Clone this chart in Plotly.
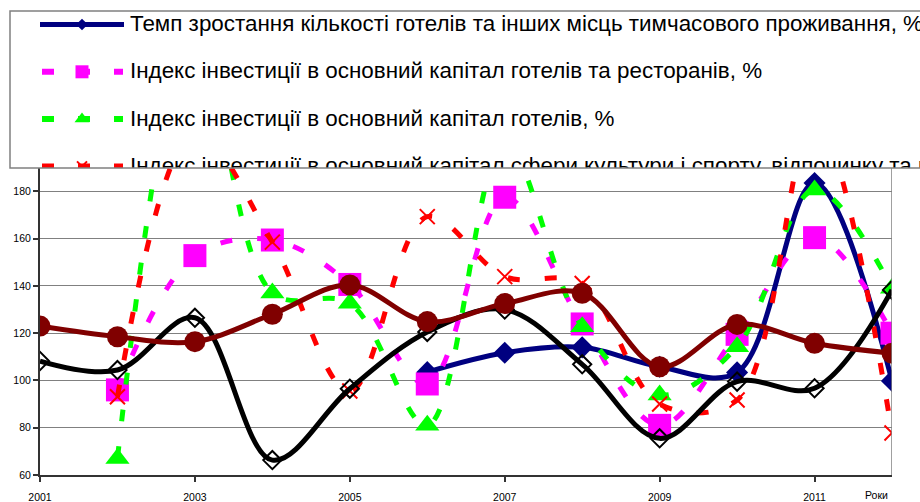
import plotly.graph_objects as go

# ---------------- data ----------------
years = [2001, 2002, 2003, 2004, 2005, 2006, 2007, 2008, 2009, 2010, 2011, 2012]
hotels_growth = [None, None, None, None, None, 103.5, 111.7, 114.0, 105.8, 103.4, 183.5, 99.8]
inv_hotels_restaurants = [None, 96.0, 152.8, 159.4, 140.6, 98.5, 177.5, 123.9, 81.0, 119.5, 160.4, 120.0]
inv_hotels = [None, 67.0, 250.0, 137.0, 132.6, 81.0, 200.0, 122.7, 93.8, 114.3, 180.6, 139.0]
inv_culture = [None, 93.1, 205.0, 158.5, 95.5, 169.3, 143.9, 141.0, 90.0, 91.7, 210.0, 77.8]
series_black = [108.2, 104.4, 126.5, 66.3, 96.5, 120.5, 130.0, 106.8, 75.5, 99.5, 96.7, 138.3]
series_brown = [123.0, 118.5, 116.4, 128.0, 140.4, 124.9, 132.5, 136.9, 105.8, 123.7, 115.7, 111.5]

tick_years = [2001, 2003, 2005, 2007, 2009, 2011]
tick_labels = ["2001", "2003", "2005", "2007", "2009", "2011"]
y_ticks = [60, 80, 100, 120, 140, 160, 180]
x_axis_title = "Роки"

legend_labels = [
    "Темп зростання кількості готелів та інших місць тимчасового проживання, %",
    "Індекс інвестиції в основний капітал готелів та ресторанів, %",
    "Індекс інвестиції в основний капітал готелів, %",
    "Індекс інвестиції в основний капітал сфери культури і спорту, відпочинку та розваг, %",
]

NAVY = "#000080"
MAGENTA = "#FF00FF"
GREEN = "#00FF00"
RED = "#FF0000"
BLACK = "#000000"
BROWN = "#800000"
DASH = "12px,25px"
FONT = "Liberation Sans, Arial, sans-serif"

W, H = 920, 502
PL, PR, PT, PB = 40, 892, 168, 475  # plot area in pixels


def fy(px):
    return (H - px) / H


fig = go.Figure()

common = dict(xaxis="x", yaxis="y", hoverinfo="skip", showlegend=False)

fig.add_trace(go.Scatter(
    x=years, y=hotels_growth, mode="lines+markers",
    line=dict(color=NAVY, width=5, shape="spline", smoothing=1),
    marker=dict(symbol="diamond", size=17, color=NAVY), **common))
fig.add_trace(go.Scatter(
    x=years, y=inv_hotels_restaurants, mode="lines+markers",
    line=dict(color=MAGENTA, width=5, dash=DASH, shape="spline", smoothing=1),
    marker=dict(symbol="square", size=23, color=MAGENTA), **common))
fig.add_trace(go.Scatter(
    x=years, y=inv_hotels, mode="lines+markers",
    line=dict(color=GREEN, width=5, dash=DASH, shape="spline", smoothing=1),
    marker=dict(symbol="triangle-up", size=21, color=GREEN), **common))
fig.add_trace(go.Scatter(
    x=years, y=inv_culture, mode="lines+markers",
    line=dict(color=RED, width=5, dash=DASH, shape="spline", smoothing=1),
    marker=dict(symbol="x-thin-open", size=15, color=RED, line=dict(color=RED, width=2)), **common))
fig.add_trace(go.Scatter(
    x=years, y=series_black, mode="lines+markers",
    line=dict(color=BLACK, width=5, shape="spline", smoothing=1),
    marker=dict(symbol="diamond-open", size=14, color=BLACK, line=dict(color=BLACK, width=2)), **common))
fig.add_trace(go.Scatter(
    x=years, y=series_brown, mode="lines+markers",
    line=dict(color=BROWN, width=5, shape="spline", smoothing=1),
    marker=dict(symbol="circle", size=21, color=BROWN), **common))

# ---------------- legend (drawn in a pixel-unit subplot so the last row gets clipped) ----------------
row_y = [25.5, 72.8, 120.1, 167.4]
lg = dict(xaxis="x2", yaxis="y2", hoverinfo="skip", showlegend=False, cliponaxis=True)
fig.add_trace(go.Scatter(x=[40, 124], y=[24.5] * 2, mode="lines",
                         line=dict(color=NAVY, width=5), **lg))
fig.add_trace(go.Scatter(x=[82], y=[24.5], mode="markers",
                         marker=dict(symbol="diamond", size=9, color=NAVY), **lg))
for ry, col, sym in [(71.8, MAGENTA, "square"), (119.1, GREEN, "triangle-up"),
                     (166.4, RED, "x-thin-open")]:
    fig.add_trace(go.Scatter(x=[42, 123], y=[ry, ry], mode="lines",
                             line=dict(color=col, width=6, dash="12px,24px"), **lg))
    if sym == "x-thin-open":
        mk = dict(symbol=sym, size=10, color=col, line=dict(color=col, width=2))
    else:
        mk = dict(symbol=sym, size=13, color=col)
    fig.add_trace(go.Scatter(x=[82], y=[ry], mode="markers", marker=mk, **lg))
fig.add_trace(go.Scatter(x=[130] * 4, y=row_y, mode="text", text=legend_labels,
                         textposition="middle right",
                         textfont=dict(family=FONT, size=22.4, color="black"), **lg))

# ---------------- layout ----------------
fig.update_layout(
    width=W, height=H,
    margin=dict(l=0, r=0, t=0, b=0),
    paper_bgcolor="white", plot_bgcolor="white",
    font=dict(family=FONT, size=10.5, color="black"),
    xaxis=dict(
        domain=[PL / W, PR / W], range=[2001, 2012],
        tickmode="array", tickvals=tick_years, ticktext=tick_labels,
        ticks="outside", ticklen=5, tickcolor="#333333", tickwidth=1.5,
        ticklabelstandoff=6,
        showline=True, linecolor="#333333", linewidth=2,
        showgrid=False, zeroline=False, automargin=False,
        tickfont=dict(family=FONT, size=10.5, color="black"),
    ),
    yaxis=dict(
        domain=[fy(PB), fy(PT)], range=[60, 60 + (PB - PT) / 2.364],
        tickmode="array", tickvals=y_ticks,
        ticks="outside", ticklen=5, tickcolor="#333333", tickwidth=1.5,
        showline=True, linecolor="#333333", linewidth=2,
        showgrid=True, gridcolor="#808080", gridwidth=1,
        zeroline=False, automargin=False,
        tickfont=dict(family=FONT, size=10.5, color="black"),
    ),
    xaxis2=dict(domain=[10 / W, 1], range=[10, 920], visible=False, fixedrange=True),
    yaxis2=dict(domain=[fy(168), fy(11)], range=[168, 11], visible=False, fixedrange=True),
    shapes=[
        # right border of plot area
        dict(type="line", xref="x", yref="y domain", x0=2012, x1=2012, y0=0, y1=1,
             line=dict(color="#808080", width=1.5), layer="above"),
        # legend box
        dict(type="rect", xref="paper", yref="paper", x0=10 / W, x1=1.02,
             y0=fy(168), y1=fy(11), line=dict(color="#808080", width=1.5),
             fillcolor="rgba(0,0,0,0)", layer="above"),
    ],
    annotations=[
        dict(text=x_axis_title, xref="paper", yref="paper", x=890 / W, y=fy(495),
             xanchor="right", yanchor="middle", showarrow=False,
             font=dict(family=FONT, size=10.5, color="black")),
    ],
)

fig.write_html("out.html", config={"displayModeBar": False},
               post_script="document.body.style.margin='0px';document.body.style.padding='0px';")
